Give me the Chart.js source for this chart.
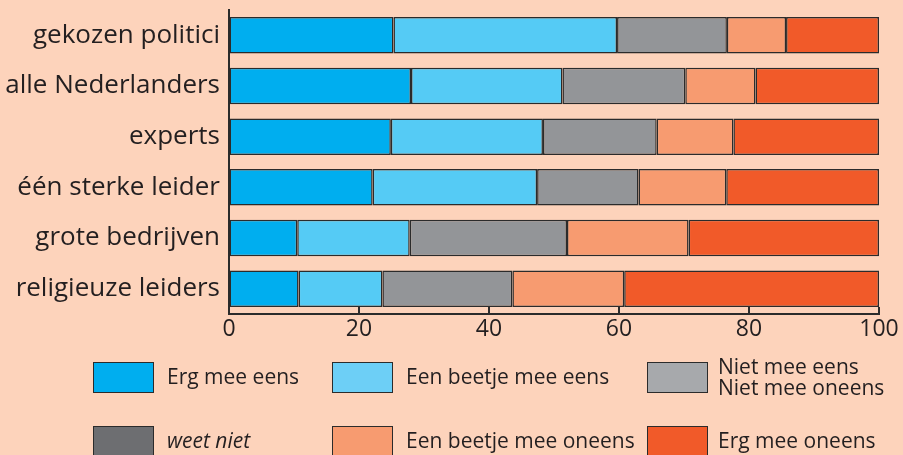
<!DOCTYPE html>
<html lang="nl">
<head>
  <meta charset="UTF-8">
  <title>Vertrouwen</title>
  <script src="https://cdn.jsdelivr.net/npm/chart.js"></script>
  <style>
    html, body { margin: 0; padding: 0; background: #fdd3bb; overflow: hidden; }
    #wrap { position: relative; width: 903px; height: 455px; }
    #legenda { position: absolute; left: 0; top: 0; width: 903px; height: 455px; pointer-events: none;
               font-family: "Open Sans", sans-serif; font-size: 21px; color: #231f20; }
    .vak { position: absolute; width: 59px; height: 29px; border: 1.5px solid #2b2b2b; }
    .tekst { position: absolute; line-height: 21px; white-space: nowrap; }
  </style>
</head>
<body>
  <div id="wrap">
    <canvas id="grafiek" width="903" height="455"></canvas>
    <div id="legenda"></div>
  </div>

  <script>
    // categorieën (van boven naar beneden)
    const categorieen = ['gekozen politici', 'alle Nederlanders', 'experts', 'één sterke leider', 'grote bedrijven', 'religieuze leiders'];

    // percentages per antwoord
    const ergMeeEens        = [25.3, 28.0, 24.9, 22.1, 10.5, 10.7];
    const beetjeMeeEens     = [34.4, 23.3, 23.4, 25.3, 17.3, 12.9];
    const nietEensNietOneens = [16.9, 18.9, 17.5, 15.6, 24.2, 20.0];
    const beetjeMeeOneens   = [9.1, 10.8, 11.8, 13.5, 18.7, 17.2];
    const ergMeeOneens      = [14.3, 19.0, 22.4, 23.5, 29.3, 39.2];

    const asLabels = [0, 20, 40, 60, 80, 100];

    // legenda: twee rijen van drie
    const legendaLabels = [
      'Erg mee eens', 'Een beetje mee eens', 'Niet mee eens\nNiet mee oneens',
      'weet niet', 'Een beetje mee oneens', 'Erg mee oneens'
    ];
    const legendaKleuren = ['#00aeef', '#6dcff6', '#a7a9ac', '#6d6e71', '#f79b70', '#f15a29'];

    const tekstKleur = '#231f20';

    const datasets = [
      { label: 'Erg mee eens', data: ergMeeEens, backgroundColor: '#00aeef' },
      { label: 'Een beetje mee eens', data: beetjeMeeEens, backgroundColor: '#55cbf5' },
      { label: 'Niet mee eens Niet mee oneens', data: nietEensNietOneens, backgroundColor: '#939598' },
      { label: 'Een beetje mee oneens', data: beetjeMeeOneens, backgroundColor: '#f79b70' },
      { label: 'Erg mee oneens', data: ergMeeOneens, backgroundColor: '#f15a29' }
    ].map(d => Object.assign(d, {
      borderColor: '#2b2b2b',
      borderWidth: 1.5,
      borderSkipped: false,
      barPercentage: 0.72,
      categoryPercentage: 1
    }));

    // kleine streepjes naar binnen op de x-as
    const tickjesBinnen = {
      id: 'tickjesBinnen',
      afterDatasetsDraw(chart) {
        const x = chart.scales.x;
        const ctx = chart.ctx;
        const onder = chart.chartArea.bottom;
        ctx.save();
        ctx.strokeStyle = '#2b2b2b';
        ctx.lineWidth = 2;
        asLabels.forEach(v => {
          const px = x.getPixelForValue(v);
          ctx.beginPath();
          ctx.moveTo(px, onder - 7);
          ctx.lineTo(px, onder);
          ctx.stroke();
        });
        ctx.restore();
      }
    };

    new Chart(document.getElementById('grafiek'), {
      type: 'bar',
      data: { labels: categorieen, datasets: datasets },
      plugins: [tickjesBinnen],
      options: {
        indexAxis: 'y',
        responsive: false,
        animation: false,
        layout: { padding: { top: 10, right: 24, bottom: 106, left: 0 } },
        plugins: { legend: { display: false }, tooltip: { enabled: false } },
        scales: {
          x: {
            stacked: true,
            min: 0,
            max: 100,
            afterBuildTicks: s => { s.ticks = asLabels.map(v => ({ value: v })); },
            afterFit: s => { s.height = 35; },
            grid: { display: true, drawOnChartArea: false, drawTicks: false },
            border: { display: true, color: '#2b2b2b', width: 2 },
            ticks: { color: tekstKleur, padding: 2, maxRotation: 0,
                     font: { family: 'Open Sans', size: 23 } }
          },
          y: {
            stacked: true,
            afterFit: s => { s.width = 229; s.paddingTop = 0; s.paddingBottom = 0; },
            grid: { display: false, drawTicks: false },
            border: { display: true, color: '#2b2b2b', width: 2 },
            ticks: { color: tekstKleur, padding: 9, font: { family: 'Open Sans', size: 26 } }
          }
        }
      }
    });

    // legenda opbouwen
    const legenda = document.getElementById('legenda');
    const kolommen = [93, 332, 647];
    const rijen = [362, 426];
    legendaLabels.forEach((lbl, i) => {
      const kol = kolommen[i % 3];
      const rij = rijen[Math.floor(i / 3)];
      const vak = document.createElement('div');
      vak.className = 'vak';
      vak.style.left = kol + 'px';
      vak.style.top = rij + 'px';
      vak.style.background = legendaKleuren[i];
      legenda.appendChild(vak);

      const t = document.createElement('div');
      t.className = 'tekst';
      const regels = lbl.split('\n');
      t.innerHTML = regels.join('<br>');
      t.style.left = (kol + (i % 3 === 2 ? 71 : 74)) + 'px';
      t.style.top = (rij + 16 - regels.length * 10.5 - (regels.length > 1 ? 1 : 2)) + 'px';
      if (lbl === 'weet niet') t.style.fontStyle = 'italic';
      legenda.appendChild(t);
    });
  </script>
</body>
</html>
